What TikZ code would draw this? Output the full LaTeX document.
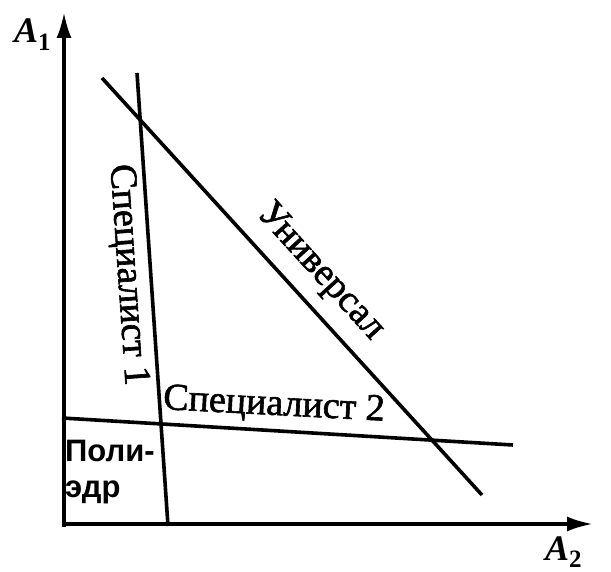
\documentclass[tikz,border=0pt]{standalone}
\usepackage{fontspec}
\setmainfont{Liberation Serif}
\newfontfamily\medfont{Liberation Serif}[FakeBold=1.6]
\newfontfamily\polyfont{Liberation Sans}
\usetikzlibrary{arrows.meta}
\begin{document}
\begin{tikzpicture}[x=1pt,y=1pt,
  ln/.style={line width=3.6pt},
  ax/.style={line width=3.6pt,-{Latex[length=26pt,width=15pt]}},
  lbl/.style={font=\fontsize{38}{42}\selectfont\medfont, inner sep=0pt},
  axlbl/.style={font=\fontsize{36}{40}\selectfont\bfseries, inner sep=0pt, anchor=base west}]
\useasboundingbox (0,0) rectangle (611,-572);
% axes
\coordinate (Ytop) at (64,-12);
\coordinate (Yst) at (64,-527);
\coordinate (Xst) at (62,-524);
\coordinate (Xend) at (593,-524);
\draw[ax] (Yst) -- (Ytop);
\draw[ax] (Xst) -- (Xend);
% lines
\coordinate (S1a) at (137,-73);
\coordinate (S1b) at (168,-526);
\coordinate (Ua) at (102,-78);
\coordinate (Ub) at (482,-495);
\coordinate (S2a) at (62,-418);
\coordinate (S2b) at (513,-445);
\draw[ln] (S1a) -- (S1b);
\draw[ln] (Ua) -- (Ub);
\draw[ln] (S2a) -- (S2b);
% labels
\node[axlbl] (A1) at (14,-43) {\textit{A}\textsubscript{\fontsize{25}{25}\selectfont 1}};
\node[axlbl] (A2) at (545,-560) {\textit{A}\textsubscript{\fontsize{25}{25}\selectfont 2}};
\node[lbl, rotate=-86.1] (t1) at (127,-275) {Специалист 1};
\node[lbl, rotate=-3] (t2) at (274,-406) {Специалист 2};
\node[lbl, rotate=-47.7] (tu) at (320,-272) {Универсал};
\node[inner sep=0pt, anchor=north west, align=left,
  font=\fontsize{31}{36}\selectfont\polyfont\bfseries] (poly) at (65,-440) {Поли-\\эдр};
\end{tikzpicture}
\end{document}
